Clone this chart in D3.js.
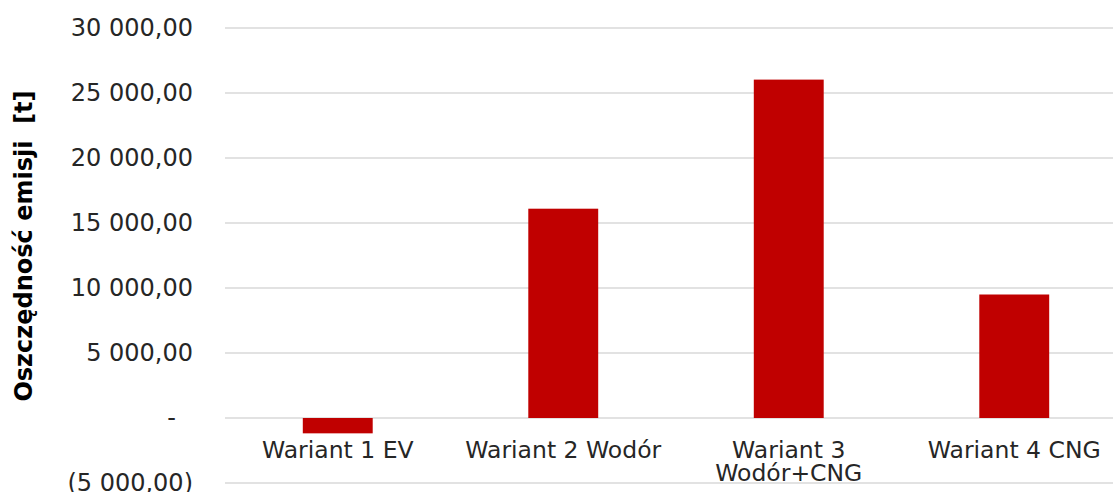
<!DOCTYPE html>
<html>
<head>
<meta charset="utf-8">
<script src="https://cdn.jsdelivr.net/npm/d3@7"></script>
<style>
  body { margin: 0; background: #fff; }
  text { font-family: "DejaVu Sans", Verdana, sans-serif; fill: #262626; }
</style>
</head>
<body>
<svg id="chart" width="1113" height="492"></svg>
<script>
var width = 1113;
var height = 492;

var categories = ["Wariant 1 EV", "Wariant 2 Wodór", "Wariant 3 Wodór+CNG", "Wariant 4 CNG"];
var savings = [-1180, 16100, 26030, 9500];
var yTicks = [-5000, 0, 5000, 10000, 15000, 20000, 25000, 30000];
var yTitle = "Oszczędność emisji  [t]";

var plotLeft = 225, plotRight = 1127, plotTop = 28, plotBottom = 483;

var svg = d3.select("#chart");

var x = d3.scaleBand()
    .domain(categories)
    .range([plotLeft, plotRight])
    .padding(0);

var y = d3.scaleLinear()
    .domain([-5000, 30000])
    .range([plotBottom, plotTop]);

// liczby w stylu excela: 30 000,00 / (5 000,00) / -
function fmt(v) {
  if (v === 0) return "-";
  var s = d3.format(",.2f")(Math.abs(v)).replace(/,/g, " ").replace(".", ",");
  return v < 0 ? "(" + s + ")" : s;
}

// siatka
svg.append("g")
  .selectAll("line")
  .data(yTicks)
  .enter().append("line")
    .attr("x1", plotLeft)
    .attr("x2", width)
    .attr("y1", function(d) { return y(d); })
    .attr("y2", function(d) { return y(d); })
    .attr("stroke", "#d9d9d9")
    .attr("stroke-width", 1.5);

// os Y
var yAxis = svg.append("g")
    .attr("transform", "translate(193,0)")
    .call(d3.axisLeft(y).tickValues(yTicks).tickFormat(fmt).tickSize(0).tickPadding(0));
yAxis.select(".domain").remove();
yAxis.selectAll("text")
    .style("font-size", "24px")
    .attr("fill", "#262626")
    .attr("x", function(d) { return d === 0 ? -17 : 0; });

// slupki
var barW = x.bandwidth() * 0.31;
svg.append("g")
  .selectAll("rect")
  .data(savings)
  .enter().append("rect")
    .attr("x", function(d, i) { return x(categories[i]) + x.bandwidth() / 2 - barW / 2; })
    .attr("y", function(d) { return y(Math.max(0, d)); })
    .attr("width", barW)
    .attr("height", function(d) { return Math.abs(y(d) - y(0)); })
    .attr("fill", "#c00000");

// etykiety kategorii
var labels = svg.append("g")
  .selectAll("text")
  .data(categories)
  .enter().append("text")
    .attr("text-anchor", "middle")
    .style("font-size", "23.5px")
    .attr("x", function(d) { return x(d) + x.bandwidth() / 2; })
    .attr("y", y(0) + 40);

labels.each(function(d) {
  var t = d3.select(this);
  t.text(d);
  if (this.getComputedTextLength() > x.bandwidth() * 0.95) {
    var words = d.split(" ");
    var first = words.slice(0, -1).join(" ");
    var last = words[words.length - 1];
    t.text(null);
    t.append("tspan").attr("x", t.attr("x")).text(first);
    t.append("tspan").attr("x", t.attr("x")).attr("dy", 23).text(last);
  }
});

// tytul osi
svg.append("text")
    .attr("transform", "translate(32," + 246 + ") rotate(-90)")
    .attr("text-anchor", "middle")
    .style("font-size", "24px")
    .style("font-weight", "bold")
    .style("white-space", "pre")
    .style("fill", "#000")
    .text(yTitle);
</script>
</body>
</html>
